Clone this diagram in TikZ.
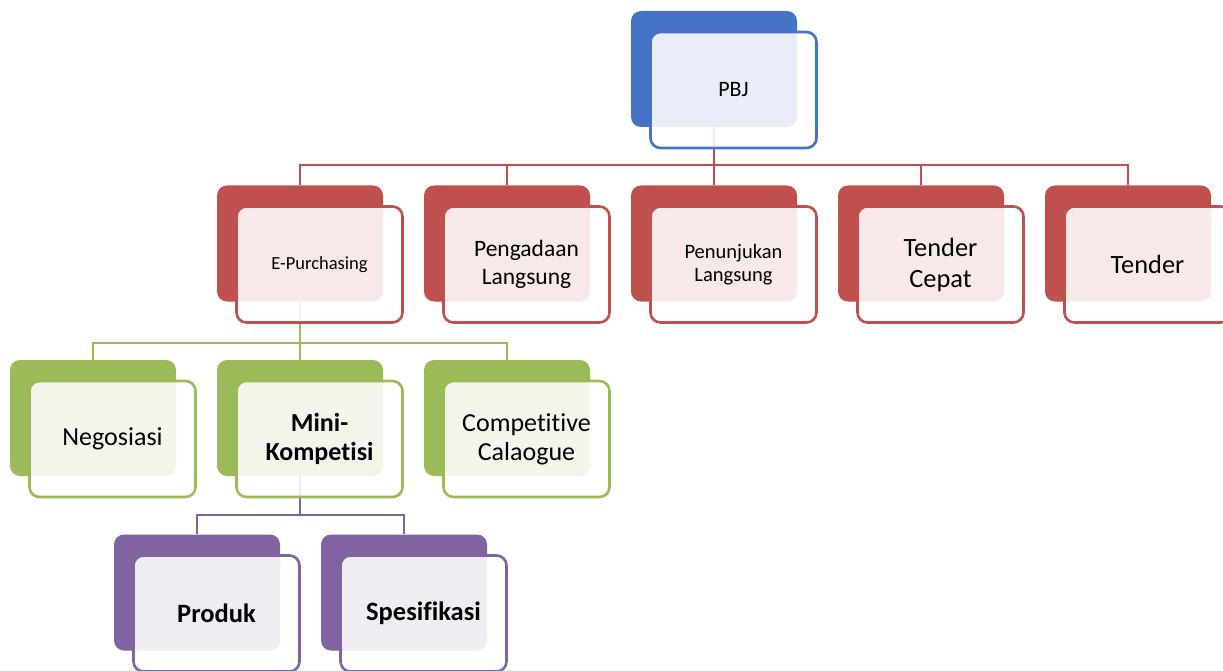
\documentclass[tikz,border=0pt]{standalone}
\usepackage{fontspec}
\setmainfont[Ligatures=NoCommon]{Carlito}
\usetikzlibrary{backgrounds}

\definecolor{pbjblue}{HTML}{4472C4}
\definecolor{pbjred}{HTML}{C0504D}
\definecolor{pbjgreen}{HTML}{9BBB59}
\definecolor{pbjpurple}{HTML}{8064A2}

\tikzset{
  backbox/.style={fill=#1, rounded corners=10pt, minimum width=166pt, minimum height=116pt, inner sep=0pt},
  frontbox/.style={draw=#1, line width=2.6pt, fill=white, fill opacity=0.88, text opacity=1,
    rounded corners=10pt, minimum width=166pt, minimum height=116pt, inner sep=0pt, align=center},
  link/.style={draw=#1, line width=2.2pt}
}

% name, x, y, colour, font, text
\newcommand{\orgbox}[6]{
  \node[backbox=#4] (#1-back) at (#2,#3) {};
  \node[frontbox=#4, font=#5] (#1) at ([shift={(19.5,21)}]#1-back.center) {#6};
}

\begin{document}
\begin{tikzpicture}[x=1pt,y=-1pt]
\useasboundingbox (0,0) rectangle (1223,671);

% top
\orgbox{pbj}{714}{69}{pbjblue}{\fontsize{22}{26}\selectfont}{PBJ}

% level 2
\orgbox{epur}{300}{243.5}{pbjred}{\fontsize{18.5}{22}\selectfont}{E-Purchasing}
\orgbox{peng}{507}{243.5}{pbjred}{\fontsize{23.5}{28}\selectfont}{Pengadaan\\Langsung}
\orgbox{penu}{714}{243.5}{pbjred}{\fontsize{20.5}{23}\selectfont}{Penunjukan\\Langsung}
\orgbox{tcep}{921}{243.5}{pbjred}{\fontsize{26.4}{31}\selectfont}{Tender\\Cepat}
\orgbox{tend}{1128}{243.5}{pbjred}{\fontsize{26.4}{31}\selectfont}{Tender}

% level 3
\orgbox{nego}{93}{418}{pbjgreen}{\fontsize{26}{29}\selectfont}{Negosiasi}
\orgbox{mini}{300}{418}{pbjgreen}{\fontsize{26}{29}\selectfont\bfseries}{Mini-\\Kompetisi}
\orgbox{comp}{507}{418}{pbjgreen}{\fontsize{26}{29}\selectfont}{Competitive\\Calaogue}

% level 4
\orgbox{prod}{197}{592.5}{pbjpurple}{\fontsize{26.5}{30}\selectfont\bfseries}{Produk}
\orgbox{spes}{404}{592.5}{pbjpurple}{\fontsize{26.5}{30}\selectfont\bfseries}{Spesifikasi}

\begin{scope}[on background layer]
\foreach \c in {epur,peng,penu,tcep,tend}
  \draw[link=pbjred] (pbj-back.south) -- ++(0,38) -| (\c-back.north);
\foreach \c in {nego,mini,comp}
  \draw[link=pbjgreen] (epur-back.south) -- ++(0,41) -| (\c-back.north);
\foreach \c in {prod,spes}
  \draw[link=pbjpurple] (mini-back.south) -- ++(0,39) -| (\c-back.north);
\end{scope}
\end{tikzpicture}
\end{document}
